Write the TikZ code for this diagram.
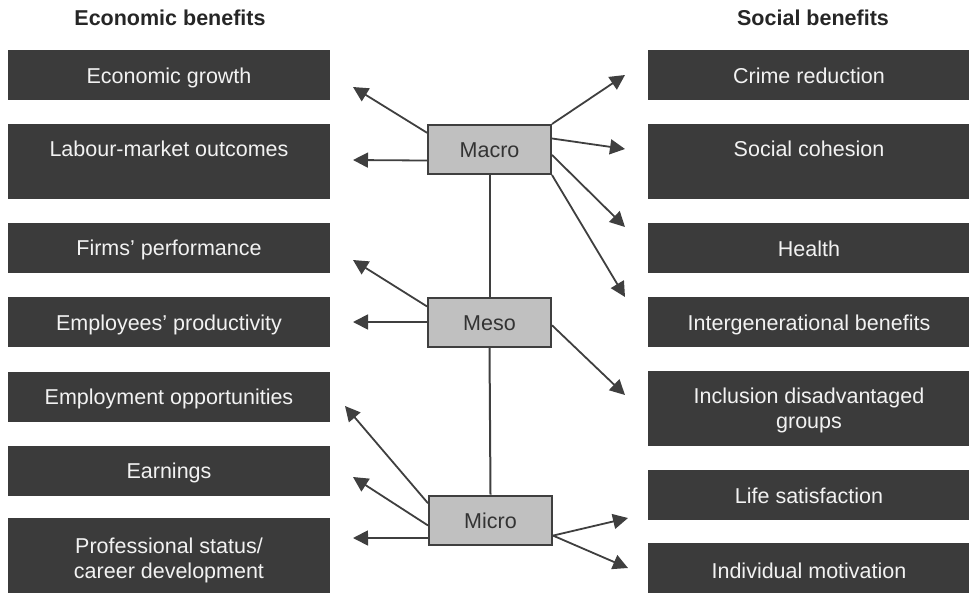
\documentclass[tikz,border=0pt]{standalone}
\usepackage{fontspec}
\setmainfont{Liberation Sans}
\usepackage{tikz}
\usetikzlibrary{arrows.meta, shapes, calc}

\definecolor{boxgrey}{HTML}{3B3B3B}
\definecolor{levelgrey}{HTML}{C0C0C0}
\definecolor{linegrey}{HTML}{3F3F3F}
\definecolor{boxtext}{HTML}{F2F2F2}

\begin{document}
\begin{tikzpicture}[font=\fontsize{21.5}{25}\selectfont, x=1pt, y=-1pt]
	\def\lx{169}
	\def\rx{809}
	\def\wide{322}
		\tikzset	{
		benefit/.style={rectangle, fill=boxgrey, text=boxtext, align=center, inner sep=0pt, minimum width=\wide, minimum height=50, text height=20pt, text depth=4pt},
		tall/.style={minimum height=75, text height=, text depth=0pt},
		level/.style={rectangle, fill=levelgrey, draw=linegrey, line width=2pt, text=black!80, inner sep=0pt, minimum width=123, minimum height=49, text height=20pt, text depth=4pt},
		heading/.style={font=\fontsize{21.5}{25}\selectfont\bfseries, text=black!85},
		effect/.style={draw=linegrey, line width=1.8pt, -{Triangle[length=15pt, width=15pt]}},
	}

	\clip (0,0) rectangle (969,592);

	\node[heading] (econhead) at (170,18) {Economic benefits};
	\node[heading] (sochead) at (813,18) {Social benefits};

	% economic side
	\node[benefit] (growth) at (\lx,75) {Economic growth};
	\node[benefit, tall] (labour) at (\lx,161.5) {Labour-market outcomes\\\mbox{}};
	\node[benefit] (firms) at (\lx,247.5) {Firms’ performance};
	\node[benefit] (employees) at (\lx,322) {Employees’ productivity};
	\node[benefit] (employment) at (\lx,396.5) {Employment opportunities};
	\node[benefit] (earnings) at (\lx,470.5) {Earnings};
	\node[benefit, tall, minimum height=81] (career) at (\lx,558.5) {Professional status/\\career development};

	% social side
	\node[benefit] (crime) at (\rx,75) {Crime reduction};
	\node[benefit, tall] (cohesion) at (\rx,161.5) {Social cohesion\\\mbox{}};
	\node[benefit] (health) at (\rx,248) {Health};
	\node[benefit] (intergen) at (\rx,322) {Intergenerational benefits};
	\node[benefit, tall] (inclusion) at (\rx,408.5) {Inclusion disadvantaged\\groups};
	\node[benefit] (satisfaction) at (\rx,495) {Life satisfaction};
	\node[benefit, minimum height=54] (motivation) at (\rx,570) {Individual motivation};

	% levels
	\node[level] (macro) at (489.5,149.5) {Macro};
	\node[level] (meso) at (489.5,322) {Meso};
	\node[level] (micro) at (490.5,520) {Micro};

	\draw[linegrey, line width=2pt] (macro.south) -- (meso.north);
	\draw[linegrey, line width=2pt] (meso.south) -- (micro.north);

	% arrow tips
	\coordinate (mal1) at (353,87);
	\coordinate (mal2) at (353,160);
	\coordinate (mar1) at (625,75);
	\coordinate (mar2) at (625,149);
	\coordinate (mar3) at (625,227);
	\coordinate (mar4) at (625,297);
	\coordinate (mel1) at (353,260);
	\coordinate (mel2) at (353,322);
	\coordinate (mer1) at (625,395);
	\coordinate (mil1) at (345,406);
	\coordinate (mil2) at (353,477);
	\coordinate (mil3) at (353,538);
	\coordinate (mir1) at (628,518);
	\coordinate (mir2) at (628,568);

	\draw[effect] (macro.165) -- (mal1);
	\draw[effect] (macro.190) -- (mal2);
	\draw[effect] (macro.north east) -- (mar1);
	\draw[effect] (macro.10) -- (mar2);
	\draw[effect] (macro.-5) -- (mar3);
	\draw[effect] (macro.south east) -- (mar4);

	\draw[effect] (meso.166) -- (mel1);
	\draw[effect] (meso.west) -- (mel2);
	\draw[effect] (meso.-3) -- (mer1);

	\draw[effect] (micro.165) -- (mil1);
	\draw[effect] (micro.185) -- (mil2);
	\draw[effect] (micro.196) -- (mil3);
	\draw[effect] (micro.-14) -- (mir1);
	\draw[effect] (micro.-14) -- (mir2);
\end{tikzpicture}
\end{document}
